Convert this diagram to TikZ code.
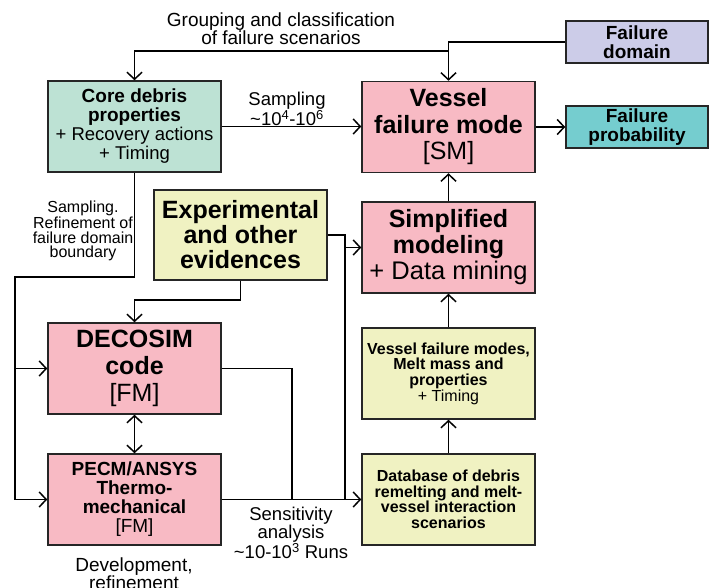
\documentclass[tikz,border=0pt]{standalone}
\usepackage{fontspec}
\setmainfont{Liberation Sans}
\usetikzlibrary{arrows.meta}
\definecolor{cgreen}{RGB}{189,226,212}
\definecolor{cpink}{RGB}{248,186,196}
\definecolor{clav}{RGB}{204,204,232}
\definecolor{cteal}{RGB}{117,205,207}
\definecolor{cyel}{RGB}{240,242,194}
\newcommand{\fs}[2]{\fontsize{#1}{#2}\selectfont}
\tikzset{
  box/.style={draw=black!85, line width=1.5pt, inner sep=0pt, align=center,
              minimum width=173pt, minimum height=91pt},
  arr/.style={line width=1.5pt, -{Straight Barb[length=7pt,width=15pt]}},
  darr/.style={line width=1.5pt, {Straight Barb[length=7pt,width=15pt]}-{Straight Barb[length=7pt,width=15pt]}},
  ln/.style={line width=1.5pt},
  lbl/.style={inner sep=0pt, align=center}
}
\begin{document}
\begin{tikzpicture}[x=1pt,y=-1pt]
\useasboundingbox (0,0) rectangle (710,588);
% boxes
\node[box, fill=cgreen, font=\fs{19}{19}] (core) at (134.5,126.5)
  {\textbf{Core debris}\\\textbf{properties}\\{\fs{18.5}{19}+ Recovery actions}\\{\fs{18.5}{19}+ Timing}};
\node[box, fill=cpink, font=\fs{25}{26.5}] (vessel) at (448.5,127)
  {\textbf{Vessel}\\\textbf{failure mode}\\{[SM]}};
\node[box, fill=clav, minimum width=142pt, minimum height=42pt, font=\fs{19}{18.5}] (domain) at (637,42)
  {\textbf{Failure}\\\textbf{domain}};
\node[box, fill=cteal, minimum width=142pt, minimum height=42pt, font=\fs{19}{18.5}] (prob) at (637,127)
  {\textbf{Failure}\\\textbf{probability}};
\node[box, fill=cyel, minimum height=90pt, font=\fs{25}{25}] (exp) at (240.5,235)
  {\textbf{Experimental}\\\textbf{and other}\\\textbf{evidences}};
\node[box, fill=cpink, font=\fs{25}{26}] (simp) at (448.5,247.5)
  {\textbf{Simplified}\\\textbf{modeling}\\{\fs{25.5}{26}+ Data mining}};
\node[box, fill=cpink, font=\fs{25}{27}] (deco) at (134.5,368.5)
  {\textbf{DECOSIM}\\\textbf{code}\\{[FM]}};
\node[box, fill=cpink, font=\fs{19}{19}] (pecm) at (134.5,499.5)
  {\textbf{PECM/ANSYS}\\\textbf{Thermo-}\\\textbf{mechanical}\\{[FM]}};
\node[box, fill=cyel, font=\fs{16}{15.7}] (vfm) at (448.5,373.5)
  {\textbf{Vessel failure modes,}\\\textbf{Melt mass and}\\\textbf{properties}\\+ Timing};
\node[box, fill=cyel, font=\fs{16}{15.5}] (db) at (448.5,499.5)
  {\textbf{Database of debris}\\\textbf{remelting and melt-}\\\textbf{vessel interaction}\\\textbf{scenarios}};
% labels
\node[lbl, font=\fs{19}{18}] (lgroup) at (281,29) {Grouping and classification\\of failure scenarios};
\node[lbl, font=\fs{18.5}{18}] (lsamp) at (287,109) {Sampling\\\textasciitilde10\textsuperscript{4}-10\textsuperscript{6}};
\node[lbl, font=\fs{16}{14.7}] (lref) at (83,231) {Sampling.\\Refinement of\\failure domain\\boundary};
\node[lbl, font=\fs{18.5}{18.5}] (lsens) at (291,533) {Sensitivity\\analysis\\\textasciitilde10-10\textsuperscript{3} Runs};
\node[lbl, font=\fs{19}{18}] (ldev) at (134,574) {Development,\\refinement};
% coordinates
\coordinate (G) at (448.5,51);
\coordinate (L) at (15,277);
\coordinate (E) at (134.5,300);
\coordinate (X) at (345,235);
\coordinate (D) at (292,368.5);
% connectors
\draw[arr] (core.east) -- (core.east -| vessel.west);
\draw[arr] (vessel.east) -- (vessel.east -| prob.west);
\draw[arr] (domain.west) -| (vessel.north);
\draw[arr] (G) -| (core.north);
\draw[arr] (simp.north) -- (vessel.south);
\draw[arr] (vfm.north) -- (simp.south);
\draw[arr] (db.north) -- (vfm.south);
\draw[arr] (core.south) |- (L) |- (pecm.west);
\draw[arr] (L |- deco.west) -- (deco.west);
\draw[arr] (exp.south) |- (E) -- (deco.north);
\draw[darr] (deco.south) -- (pecm.north);
\draw[ln] (exp.east |- X) -- (X) -- (X |- db.west);
\draw[arr] (X |- simp.west) -- (simp.west);
\draw[arr] (pecm.east) -- (db.west);
\draw[ln] (deco.east) -- (D) -- (D |- db.west);
\end{tikzpicture}
\end{document}
